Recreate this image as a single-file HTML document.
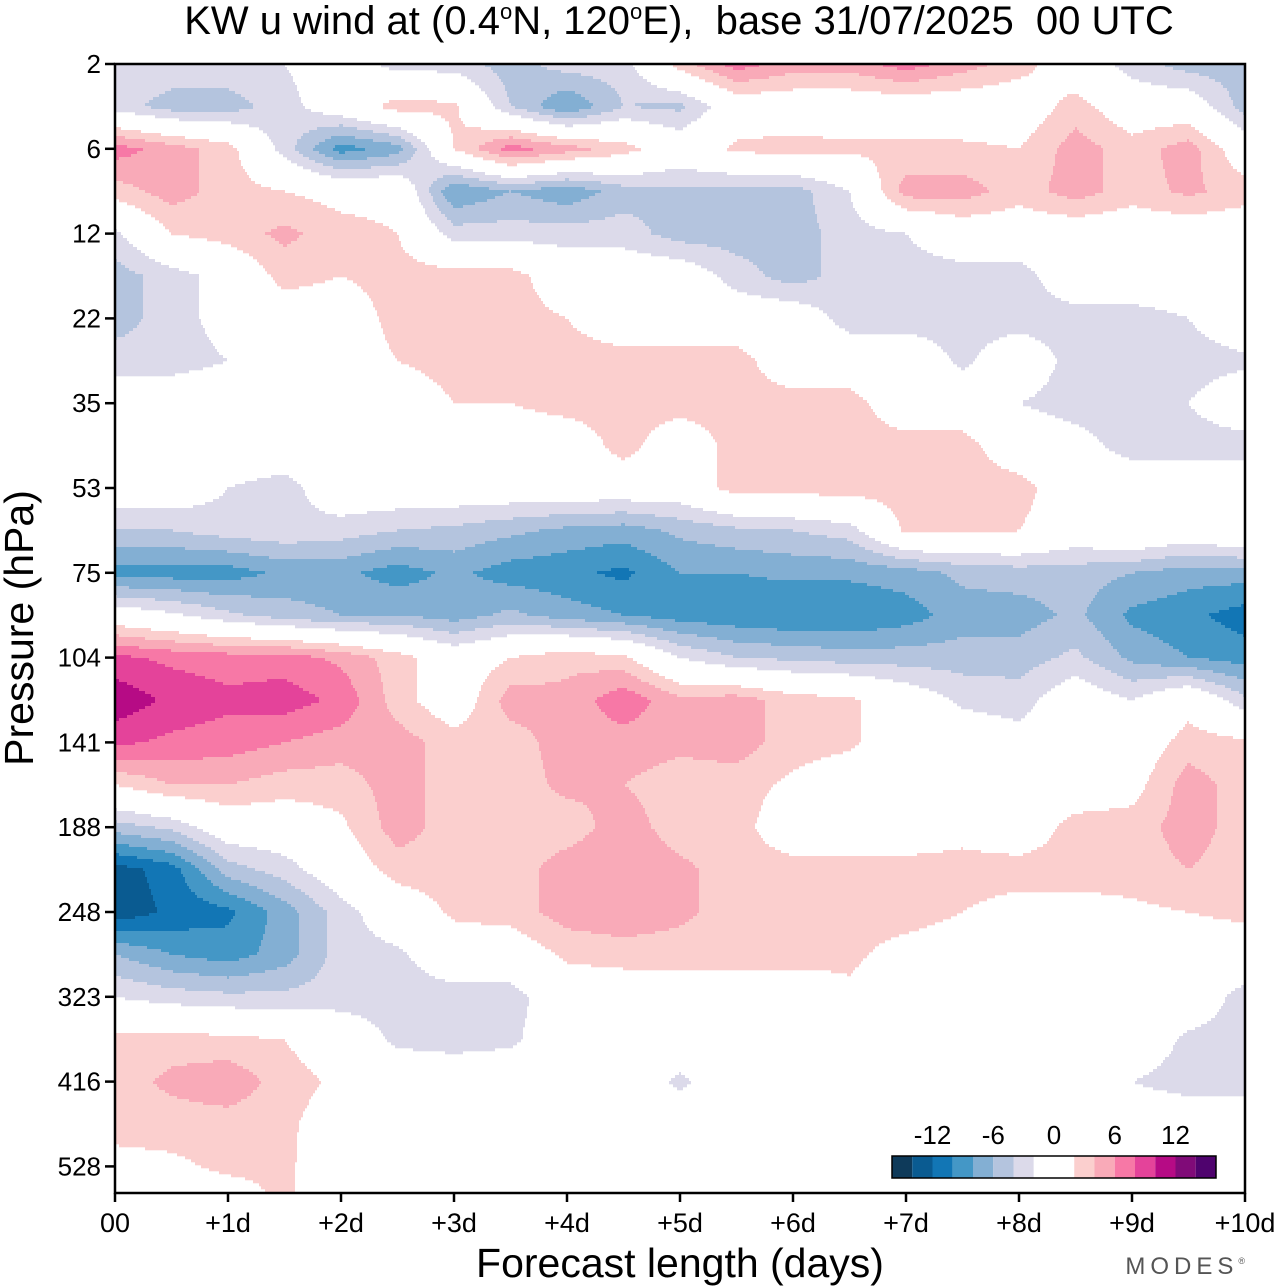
<!DOCTYPE html>
<html><head><meta charset="utf-8"><style>
html,body{margin:0;padding:0;background:#fff;}
svg{display:block;font-family:"Liberation Sans",Arial,sans-serif;}
</style></head><body>
<svg id="chart" width="1280" height="1286" viewBox="0 0 1280 1286" xmlns="http://www.w3.org/2000/svg">
<text x="679" y="34" font-size="40" text-anchor="middle" style="white-space:pre" xml:space="preserve">KW u wind at (0.4<tspan font-size="22" dy="-15">o</tspan><tspan dy="15">N, 120</tspan><tspan font-size="22" dy="-15">o</tspan><tspan dy="15">E),  base 31/07/2025  00 UTC</tspan></text>
<g id="field"></g>
<g id="axes"></g>
<g id="cbar"></g>
<text x="680" y="1277" font-size="41" text-anchor="middle">Forecast length (days)</text>
<text transform="translate(33,628) rotate(-90)" font-size="41" text-anchor="middle">Pressure (hPa)</text>
<text x="1250" y="1274" font-size="24" fill="#555" text-anchor="end" letter-spacing="5">MODES<tspan font-size="9" dy="-10">®</tspan></text>
</svg>
<script>
const forecastDays = [0,0.5,1,1.5,2,2.5,3,3.5,4,4.5,5,5.5,6,6.5,7,7.5,8,8.5,9,9.5,10];
const dayLabels = ["00","+1d","+2d","+3d","+4d","+5d","+6d","+7d","+8d","+9d","+10d"];
const pressureLabels = ["2","6","12","22","35","53","75","104","141","188","248","323","416","528"];
const levelIndex = [0,0.5,1,1.5,2,2.5,3,3.5,4,4.5,5,5.5,6,6.5,7,7.5,8,8.5,9,9.5,10,10.5,11,11.5,12,12.5,13,13.5];
const bandEdges = [-14,-12,-10,-8,-6,-4,-2,2,4,6,8,10,12,14];
const bandColors = ["#0e3a5a","#0a5b91","#1276b5","#4497c6","#83afd3","#b4c4de","#dcdaea","#ffffff","#fbcfce","#f9aab8","#f778a6","#e4439a","#b60b85","#800b78","#4f036e"];
const colorbarLabels = [-12,-6,0,6,12];
const u = [
[-2,-2.5,-2.5,-2,0,-3,-3,-5,-3,-3,3,7,5,5,7,5,3,0,-3,-5,-5],
[-3,-5,-5,-3,0,3,2.5,-4,-8,-4,-4.5,0,0,0,0,0,0,3,0,0,-5],
[7,5,3,-3,-9,-7,2,7,5,3,0,2.5,3,2.5,2.5,2.5,2,5,3,5,0],
[3,5,3,2,1,1,-8,-6,-7.5,-5,-4.5,-5,-5,-2,5,5,3,5,3,4.5,3],
[-2.5,2,3,4.5,3,2,-3,-3,-3,-3,-5,-5,-5,-3,-2,0,0,0,0,0,0],
[-5,-3,-1,3,2,3,3,3,0,0,0,-3,-5,-3,-3,-3,-3,0,0,0,0],
[-5,-3,-1,0,0,3,3,3,2,0,0,0,0,-3,-3,-3,-3,-3,-3,-2,0],
[-3,-3,-2,0,0,2,3,3,3,3,3,3,0,0,0,-2.5,0,-3,-3,-3,-2.5],
[0,0,0,0,0,0,2,2,3,3,3,3,3,3,0,0,-2,-3,-3,-2,0],
[2,0,0,0,0,0,0,0,0,3,0,3,3,3,3,3,0,-1,-3,-3,-3],
[0,0,-2,-3,0,0,0,0,0,0,0,3,3,3,3,3,3,0,0,0,0],
[-4,-4,-3,-2.5,-3,-4,-4.5,-5.5,-6.5,-7,-5.5,-4.5,-4,-3,2.5,2.5,2,0,1.5,0,1.5],
[-9,-9,-9,-7.5,-7.5,-9,-7.5,-9,-9.5,-10.5,-8,-8,-7.5,-7.5,-7,-5.5,-5,-5,-6,-7,-7],
[0,-1.5,-3.5,-5,-6,-6,-7,-5.5,-7,-8,-9,-9.5,-10,-10,-9,-7,-7,-5.5,-8.5,-9.5,-11],
[8.5,7.5,7,7,5.5,3,0,2,3.5,2.5,-2,-4,-4.5,-5,-5,-5,-5,-3.5,-6.5,-8,-9],
[11.5,9.5,8.5,9,7.5,3,0,5,4.5,7.5,4.5,5,3,2.5,0,-2.5,-3,0,-2,1,-3.5],
[8.5,7.5,7,6,5,5,3,3,5,5,4.5,5,3,2.5,0,0,-1,0,0,3,2.5],
[2,4,4,3,3,5,3,3,4.5,4,3,3,1.5,0,0,0,0,0,1,5,3],
[-5,-3.5,0,0,1.5,5,3,3,3,5,3,3,0,0,0,1,0,3,3,5,3],
[-13,-11,-5,-3,0,3,3,3,5,5.5,4.5,3,3,3,3,3,3,3,3,4,3],
[-13.5,-11.5,-10.5,-7,-3,0,2.5,3,5,5.5,4.5,3,3,3,3,2,1,1,1.5,2,2.5],
[-6,-8,-9,-7,-3,-2.5,0,0,2.5,3,3,3,3,2.5,1,0.5,0,0,0,0.5,0.5],
[-2,-3,-3.5,-3.5,-3,-3,-3,-3,0,0,0,0,0,1.5,0,0,0,0,0,0,-3],
[2.5,3,2.5,2,0,-2.5,-3,-2.5,0,0,0,0,0,0,0,0,0,0,0,-2.5,-3],
[3,4.5,5.5,3,1.5,0,0,0,0,0,-2.5,0,0,0,0,0,0,0,-2,-3,-3],
[3,3,3,2.5,0.5,0,0,0,0,0,0,0,0,0,0,0,0,0,0,0,0],
[1,1.5,2.5,2.5,0,0,0,0,0,0,0,0,0,0,0,0,0,0,0,0,0],
[0,0,0,2.5,0,0,0,0,0,0,0,0,0,0,0,0,0,0,0,0,0]
];

const NS = "http://www.w3.org/2000/svg";
const X0 = 115, X1 = 1245, Y0 = 64, Y1 = 1193, DAYPX = 113, LEVPX = 84.8;
function xScale(t){ return X0 + t * DAYPX; }
function yScale(r){ return Y0 + r * LEVPX; }
function xInv(x){ return (x - X0) / DAYPX; }
function yInv(y){ return (y - Y0) / LEVPX; }
function mk(tag, attrs){ const e = document.createElementNS(NS, tag); for (const k in attrs) e.setAttribute(k, attrs[k]); return e; }
function band(v){ let i = 0; while (i < bandEdges.length && v >= bandEdges[i]) i++; return i; }
function sample(t, r){
  const tn = forecastDays.length - 1, rn = levelIndex.length - 1;
  const dt = forecastDays[1] - forecastDays[0], dr = levelIndex[1] - levelIndex[0];
  let fi = Math.max(0, Math.min(tn, (t - forecastDays[0]) / dt));
  let fj = Math.max(0, Math.min(rn, (r - levelIndex[0]) / dr));
  const i0 = Math.min(tn - 1, Math.floor(fi)), j0 = Math.min(rn - 1, Math.floor(fj));
  const a = fi - i0, b = fj - j0;
  return (1-a)*(1-b)*u[j0][i0] + a*(1-b)*u[j0][i0+1] + (1-a)*b*u[j0+1][i0] + a*b*u[j0+1][i0+1];
}

const field = document.getElementById('field');
const DY = 3, DX = 2;
for (let y = Y0; y < Y1; y += DY) {
  const h = Math.min(DY, Y1 - y);
  const r = yInv(y + h / 2);
  let runStart = X0, runBand = -1;
  for (let x = X0; x <= X1; x += DX) {
    const b = x < X1 ? band(sample(xInv(Math.min(x + DX / 2, X1)), r)) : -2;
    if (b !== runBand) {
      if (runBand >= 0 && runBand !== 7) {
        const rect = mk('rect', {x: runStart, y: y, width: Math.min(x, X1) - runStart, height: h + 0.3, fill: bandColors[runBand]});
        
        
        field.appendChild(rect);
      }
      runStart = x; runBand = b;
    }
  }
}

const axes = document.getElementById('axes');
const frame = mk('rect', {x: X0, y: Y0, width: X1 - X0, height: Y1 - Y0, fill: 'none', stroke: '#000', 'stroke-width': 2.5});


axes.appendChild(frame);
pressureLabels.forEach((lab, i) => {
  const y = yScale(i);
  const tk = mk('line', {x1: X0 - 10, x2: X0, y1: y, y2: y, stroke: '#000', 'stroke-width': 2.5});
  
  
  axes.appendChild(tk);
  const tx = mk('text', {x: X0 - 14, y: y + 9, 'font-size': 26, 'text-anchor': 'end'});
  tx.textContent = lab;
  
  
  axes.appendChild(tx);
});
dayLabels.forEach((lab, i) => {
  const x = xScale(i);
  const tk = mk('line', {x1: x, x2: x, y1: Y1, y2: Y1 + 9, stroke: '#000', 'stroke-width': 2.5});
  
  
  axes.appendChild(tk);
  const tx = mk('text', {x: x, y: Y1 + 39, 'font-size': 27, 'text-anchor': 'middle'});
  tx.textContent = lab;
  
  
  axes.appendChild(tx);
});

const cbar = document.getElementById('cbar');
const CB0 = 892, CBW = 20.25, CBY = 1156, CBH = 22;
let cx = CB0;
bandColors.forEach((c, i) => {
  const w = (i === 7) ? CBW * 2 : CBW;
  const r = mk('rect', {x: cx, y: CBY, width: w, height: CBH, fill: c});
  
  
  cbar.appendChild(r);
  cx += w;
});
const cbo = mk('rect', {x: CB0, y: CBY, width: cx - CB0, height: CBH, fill: 'none', stroke: '#000', 'stroke-width': 1.5});


cbar.appendChild(cbo);
const cbMid = CB0 + (cx - CB0) / 2;
colorbarLabels.forEach(v => {
  const t = mk('text', {x: cbMid + v * CBW / 2, y: 1144, 'font-size': 26, 'text-anchor': 'middle'});
  t.textContent = String(v);
  
  
  cbar.appendChild(t);
});
</script>
</body></html>
